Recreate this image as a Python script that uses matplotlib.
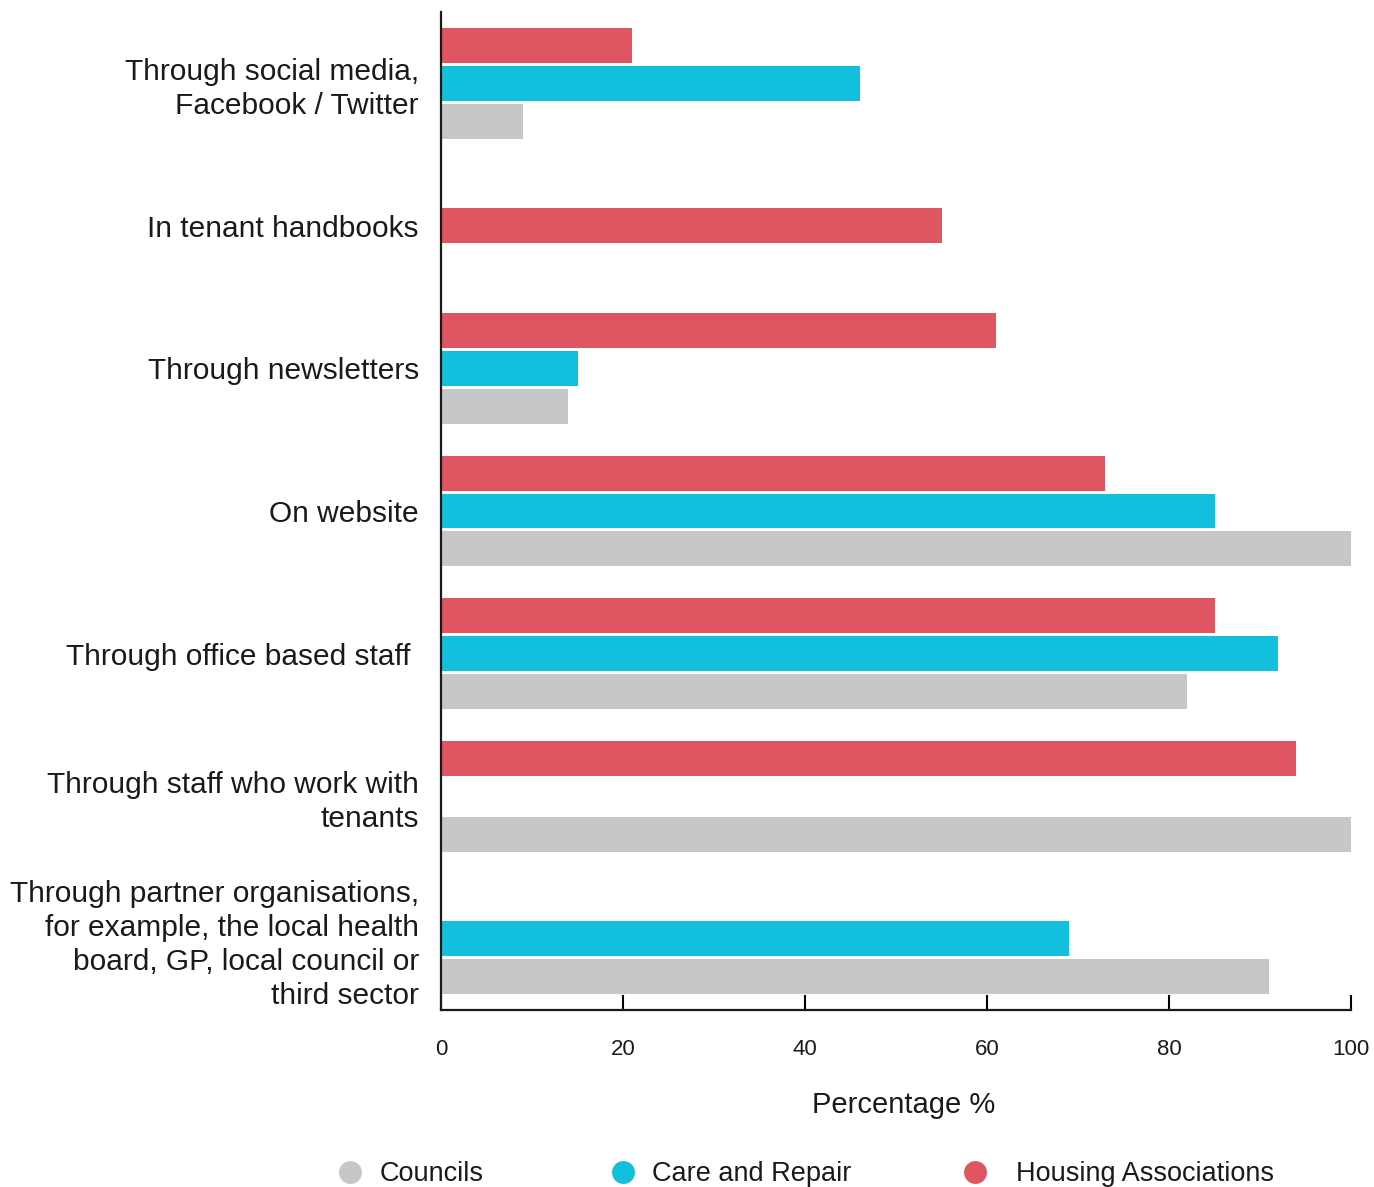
import numpy as np
import matplotlib
matplotlib.use('Agg')
import matplotlib.pyplot as plt
from matplotlib.lines import Line2D

# Categories, top to bottom
categories = [
    'Through social media,\nFacebook / Twitter',
    'In tenant handbooks',
    'Through newsletters',
    'On website',
    'Through office based staff ',
    'Through staff who work with\ntenants',
    'Through partner organisations,\nfor example, the local health\nboard, GP, local council or\nthird sector',
]

# Percentages (None = no bar)
housing_associations = [21, 55, 61, 73, 85, 94, None]
care_and_repair = [46, None, 15, 85, 92, None, 69]
councils = [9, None, 14, 100, 82, 100, 91]

x_ticks = [0, 20, 40, 60, 80, 100]

HA_COLOR = '#DF5561'
CR_COLOR = '#12BFDD'
CO_COLOR = '#C6C7C9'
TEXT_COLOR = '#1a1a1a'

plt.rcParams['font.family'] = ['Liberation Sans', 'DejaVu Sans']

fig = plt.figure(figsize=(13.74, 11.87), dpi=100)
ax = fig.add_axes([441 / 1374, 1 - 1010 / 1187, 910 / 1374, 998 / 1187])

bar_h = 0.245
step = 0.266
series = [(housing_associations, HA_COLOR, -step),
          (care_and_repair, CR_COLOR, 0.0),
          (councils, CO_COLOR, step)]

for i in range(len(categories)):
    present = [s for s in series if s[0][i] is not None]
    for values, color, offset in present:
        # a lone bar sits in the middle of its group
        pos = i if len(present) == 1 else i + offset
        ax.barh(pos, values[i], height=bar_h, color=color, linewidth=0)

ax.set_ylim(len(categories) - 0.5, -0.5)
ax.set_xlim(0, 100)
ax.set_yticks(range(len(categories)))
ax.set_yticklabels(categories, fontsize=21.5, color=TEXT_COLOR, linespacing=1.27)
ax.tick_params(axis='y', length=0, pad=16)
ax.set_xticks(x_ticks)
ax.set_xticklabels([str(t) for t in x_ticks], fontsize=16, color=TEXT_COLOR)
ax.tick_params(axis='x', direction='in', length=11, width=1.5, pad=21)

for side in ['top', 'right']:
    ax.spines[side].set_visible(False)
for side in ['left', 'bottom']:
    ax.spines[side].set_linewidth(1.6)
    ax.spines[side].set_color(TEXT_COLOR)

ax.set_xlabel('Percentage %', fontsize=21, color=TEXT_COLOR, labelpad=22)
ax.xaxis.label.set_x(0.508)

# Legend: one entry per box so each sits where it does in the original
legend_items = [('Councils', CO_COLOR, 338, 0.7),
                ('Care and Repair', CR_COLOR, 611, 0.66),
                ('Housing Associations', HA_COLOR, 963, 1.1)]
for label, color, left_px, text_pad in legend_items:
    handle = Line2D([], [], marker='o', linestyle='none', markersize=16.5,
                    markerfacecolor=color, markeredgewidth=0)
    leg = fig.legend([handle], [label], loc='center left',
                     bbox_to_anchor=(left_px / 1374, 1 - 1174 / 1187),
                     frameon=False, fontsize=19.5, handlelength=0.85,
                     handletextpad=text_pad, borderpad=0, borderaxespad=0,
                     labelcolor=TEXT_COLOR)

plt.savefig('out.png', dpi=100)
plt.close()
